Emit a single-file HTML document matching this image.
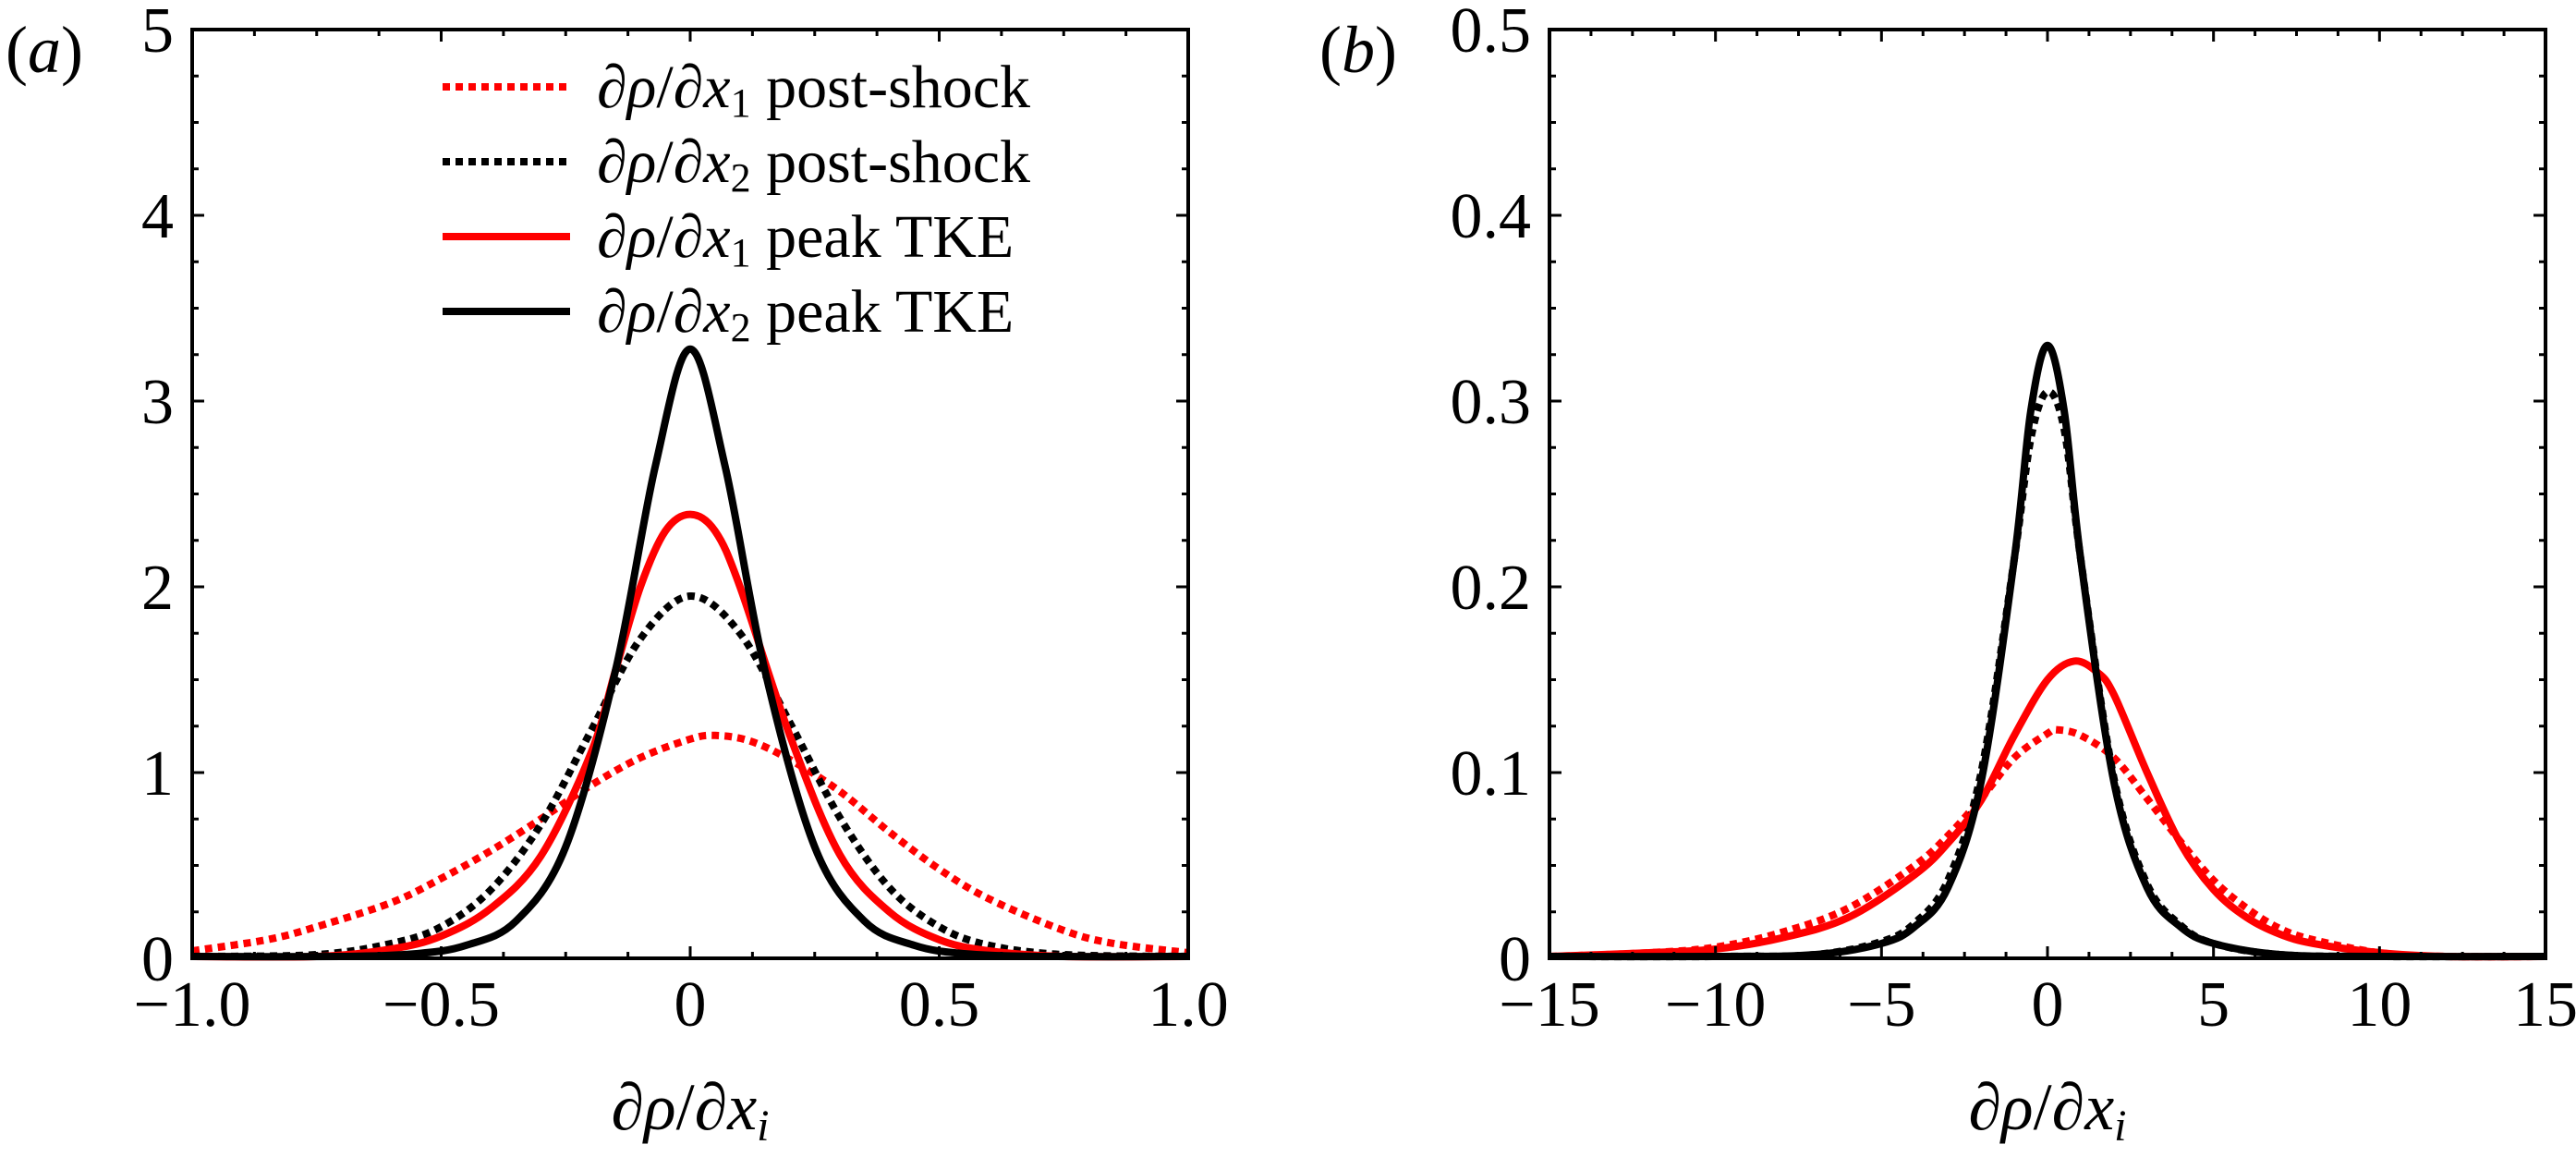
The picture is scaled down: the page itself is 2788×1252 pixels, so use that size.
<!DOCTYPE html>
<html><head><meta charset="utf-8"><style>
html,body{margin:0;padding:0;background:#fff;}
svg{display:block;}
text,tspan{font-family:"Liberation Serif","Times New Roman",Times,"DejaVu Serif",serif !important;}
</style></head><body>
<svg id="chart" width="2788" height="1252" viewBox="0 0 2788 1252"></svg>
<script>
// Panel (a) data
const aXticks = [-1.0, -0.5, 0, 0.5, 1.0];
const aXtickLabels = ["\u22121.0", "\u22120.5", "0", "0.5", "1.0"];
const aYticks = [0, 1, 2, 3, 4, 5];
const aYtickLabels = ["0", "1", "2", "3", "4", "5"];
const aRedDotX = [-1, -0.85, -0.75, -0.6, -0.5, -0.4, -0.3, -0.2, -0.1, 0, 0.05, 0.12, 0.2, 0.3, 0.4, 0.5, 0.6, 0.75, 0.85, 1];
const aRedDotY = [0.04, 0.1, 0.17, 0.3, 0.43, 0.58, 0.75, 0.93, 1.08, 1.18, 1.2, 1.17, 1.07, 0.9, 0.68, 0.48, 0.32, 0.15, 0.08, 0.03];
const aBlkDotX = [-1, -0.75, -0.6, -0.5, -0.4, -0.3, -0.2, -0.1, 0, 0.1, 0.2, 0.3, 0.4, 0.5, 0.6, 0.75, 1];
const aBlkDotY = [0, 0.02, 0.08, 0.17, 0.37, 0.72, 1.22, 1.72, 1.95, 1.75, 1.27, 0.76, 0.38, 0.17, 0.07, 0.02, 0];
const aRedSolX = [-1, -0.75, -0.6, -0.5, -0.4, -0.3, -0.2, -0.15, -0.1, -0.05, 0, 0.05, 0.1, 0.2, 0.3, 0.4, 0.5, 0.6, 0.75, 1];
const aRedSolY = [0, 0.01, 0.05, 0.12, 0.27, 0.55, 1.1, 1.55, 2.0, 2.3, 2.39, 2.3, 2.0, 1.2, 0.56, 0.25, 0.1, 0.04, 0.01, 0];
const aBlkSolX = [-1, -0.7, -0.55, -0.45, -0.35, -0.25, -0.15, -0.07, 0, 0.07, 0.15, 0.25, 0.35, 0.45, 0.55, 0.7, 1];
const aBlkSolY = [0, 0.004, 0.025, 0.07, 0.2, 0.6, 1.55, 2.65, 3.28, 2.65, 1.55, 0.6, 0.2, 0.07, 0.025, 0.004, 0];
// Panel (b) data
const bXticks = [-15, -10, -5, 0, 5, 10, 15];
const bXtickLabels = ["\u221215", "\u221210", "\u22125", "0", "5", "10", "15"];
const bYticks = [0, 0.1, 0.2, 0.3, 0.4, 0.5];
const bYtickLabels = ["0", "0.1", "0.2", "0.3", "0.4", "0.5"];
const bBlkSolX = [-15, -10, -7, -5, -4, -3, -2, -1, -0.5, 0, 0.5, 1, 2, 3, 4, 5, 7, 10, 15];
const bBlkSolY = [0, 0.0005, 0.002, 0.008, 0.017, 0.038, 0.095, 0.215, 0.295, 0.33, 0.295, 0.215, 0.095, 0.038, 0.017, 0.008, 0.002, 0.0005, 0];
const bBlkDotX = [-15, -10, -7, -5, -4, -3, -2, -1, -0.5, 0, 0.5, 1, 2, 3, 4, 5, 7, 10, 15];
const bBlkDotY = [0, 0.0005, 0.002, 0.009, 0.019, 0.042, 0.1, 0.215, 0.28, 0.305, 0.285, 0.215, 0.097, 0.04, 0.018, 0.008, 0.002, 0.0005, 0];
const bRedSolX = [-15, -12, -10, -8, -6, -4, -3, -2, -1, 0, 0.8, 1.5, 2, 3, 4, 5, 6, 7, 8, 10, 12, 15];
const bRedSolY = [0.001, 0.003, 0.005, 0.011, 0.022, 0.045, 0.062, 0.085, 0.12, 0.15, 0.16, 0.154, 0.142, 0.1, 0.062, 0.037, 0.022, 0.013, 0.008, 0.003, 0.001, 0];
const bRedDotX = [-15, -12, -10, -8, -6, -4, -3, -2, -1, 0, 0.3, 1, 2, 3, 4, 5, 6, 7, 8, 10, 12, 15];
const bRedDotY = [0.001, 0.003, 0.006, 0.014, 0.027, 0.05, 0.066, 0.086, 0.108, 0.121, 0.123, 0.12, 0.108, 0.086, 0.063, 0.042, 0.027, 0.016, 0.01, 0.003, 0.001, 0];

const NS = "http://www.w3.org/2000/svg";
const svg = document.getElementById('chart');
function mk(tag, attrs, parent) {
  const e = document.createElementNS(NS, tag);
  for (const k in attrs) e.setAttribute(k, attrs[k]);
  (parent || svg).appendChild(e);
  return e;
}
function smoothPath(pts) {
  let d = `M${pts[0][0]},${pts[0][1]}`;
  for (let i = 0; i < pts.length - 1; i++) {
    const p0 = pts[Math.max(0, i - 1)], p1 = pts[i], p2 = pts[i + 1], p3 = pts[Math.min(pts.length - 1, i + 2)];
    const c1x = p1[0] + (p2[0] - p0[0]) / 6, c1y = p1[1] + (p2[1] - p0[1]) / 6;
    const c2x = p2[0] - (p3[0] - p1[0]) / 6, c2y = p2[1] - (p3[1] - p1[1]) / 6;
    d += ` C${c1x},${c1y} ${c2x},${c2y} ${p2[0]},${p2[1]}`;
  }
  return d;
}
function panel(cfg) {
  const g = mk('g', {});
  
  
  const L = cfg.left, R = cfg.left + 1078, T = 32, B = 1037;
  const sx = v => L + (v - cfg.xmin) / (cfg.xmax - cfg.xmin) * (R - L);
  const sy = v => B - (v - cfg.ymin) / (cfg.ymax - cfg.ymin) * (B - T);
  cfg.series.forEach(s => {
    const pts = s.x.map((xv, i) => [sx(xv), Math.min(B - 2, sy(s.y[i]))]);
    const p = mk('path', {d: smoothPath(pts), fill: 'none', stroke: s.color, 'stroke-width': 8, 'stroke-linejoin': 'round'}, g);
    if (s.dash) p.setAttribute('stroke-dasharray', '8 6');
    
    
  });
  const fr = mk('rect', {x: L, y: T, width: R - L, height: B - T, fill: 'none', stroke: '#000', 'stroke-width': 4}, g);
  
  
  const xstep = (cfg.xticks[1] - cfg.xticks[0]) / 4;
  for (let k = 0; cfg.xmin + k * xstep <= cfg.xmax + 1e-9; k++) {
    const v = cfg.xmin + k * xstep;
    const len = (k % 4 === 0) ? 13 : 7, X = sx(v);
    mk('line', {x1: X, x2: X, y1: B, y2: B - len, stroke: '#000', 'stroke-width': 3}, g);
    mk('line', {x1: X, x2: X, y1: T, y2: T + len, stroke: '#000', 'stroke-width': 3}, g);
  }
  const ystep = (cfg.yticks[1] - cfg.yticks[0]) / 4;
  for (let k = 0; cfg.ymin + k * ystep <= cfg.ymax + 1e-9; k++) {
    const v = cfg.ymin + k * ystep;
    const len = (k % 4 === 0) ? 13 : 7, Y = sy(v);
    mk('line', {x1: L, x2: L + len, y1: Y, y2: Y, stroke: '#000', 'stroke-width': 3}, g);
    mk('line', {x1: R, x2: R - len, y1: Y, y2: Y, stroke: '#000', 'stroke-width': 3}, g);
  }
  cfg.xticks.forEach((v, i) => {
    const t = mk('text', {x: sx(v), y: 1110, 'font-size': 70, 'text-anchor': 'middle'}, g);
    t.textContent = cfg.xlabels[i];
    
    
  });
  cfg.yticks.forEach((v, i) => {
    const t = mk('text', {x: L - 20, y: sy(v) + 24, 'font-size': 70, 'text-anchor': 'end'}, g);
    t.textContent = cfg.ylabels[i];
    
    
  });
  const xl = mk('text', {x: (L + R) / 2, y: 1222, 'font-size': 72, 'text-anchor': 'middle'}, g);
  xl.innerHTML = '\u2202<tspan font-style="italic">\u03C1</tspan>/\u2202<tspan font-style="italic">x</tspan><tspan font-style="italic" font-size="48" dy="12">i</tspan>';
  
  
  const pl = mk('text', {x: cfg.plx, y: 78, 'font-size': 72}, g);
  pl.innerHTML = '(<tspan font-style="italic">' + cfg.letter + '</tspan>)';
  
  
  return g;
}
panel({name: 'panel-a', left: 208, xmin: -1, xmax: 1, ymin: 0, ymax: 5,
  xticks: aXticks, xlabels: aXtickLabels, yticks: aYticks, ylabels: aYtickLabels, plx: 6, letter: 'a',
  series: [
    {name: 'drho-dx1-post-shock', x: aRedDotX, y: aRedDotY, color: '#ff0000', dash: true},
    {name: 'drho-dx2-post-shock', x: aBlkDotX, y: aBlkDotY, color: '#000', dash: true},
    {name: 'drho-dx1-peak-tke', x: aRedSolX, y: aRedSolY, color: '#ff0000', dash: false},
    {name: 'drho-dx2-peak-tke', x: aBlkSolX, y: aBlkSolY, color: '#000', dash: false}
  ]});
panel({name: 'panel-b', left: 1677, xmin: -15, xmax: 15, ymin: 0, ymax: 0.5,
  xticks: bXticks, xlabels: bXtickLabels, yticks: bYticks, ylabels: bYtickLabels, plx: 1428, letter: 'b',
  series: [
    {name: 'drho-dx1-post-shock', x: bRedDotX, y: bRedDotY, color: '#ff0000', dash: true},
    {name: 'drho-dx2-post-shock', x: bBlkDotX, y: bBlkDotY, color: '#000', dash: true},
    {name: 'drho-dx1-peak-tke', x: bRedSolX, y: bRedSolY, color: '#ff0000', dash: false},
    {name: 'drho-dx2-peak-tke', x: bBlkSolX, y: bBlkSolY, color: '#000', dash: false}
  ]});
const legendNames = ['post-shock', 'post-shock', 'peak TKE', 'peak TKE'];
const legendSubs = ['1', '2', '1', '2'];
const legendColors = ['#ff0000', '#000', '#ff0000', '#000'];
const legendDash = [true, true, false, false];
const lg = mk('g', {});


legendNames.forEach((n, i) => {
  const y = 94 + i * 81;
  const e = mk('g', {}, lg);
  
  
  const ln = mk('line', {x1: 479, x2: 617, y1: y, y2: y, stroke: legendColors[i], 'stroke-width': 8}, e);
  if (legendDash[i]) ln.setAttribute('stroke-dasharray', '8 6');
  const t = mk('text', {x: 646, y: y + 22, 'font-size': 66}, e);
  t.innerHTML = '\u2202<tspan font-style="italic">\u03C1</tspan>/\u2202<tspan font-style="italic">x</tspan><tspan font-size="44" dy="10">' + legendSubs[i] + '</tspan><tspan dy="-10"> ' + n + '</tspan>';
});
</script>
</body></html>
